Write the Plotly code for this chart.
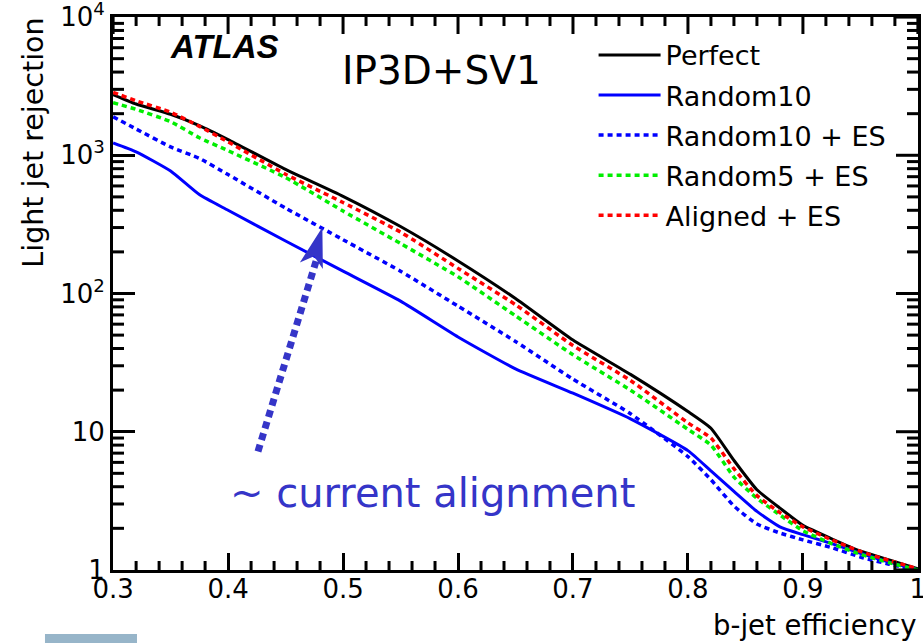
import plotly.graph_objects as go

# b-jet efficiency sampling points shared by all curves
efficiency = [0.30, 0.32, 0.35, 0.375, 0.40, 0.45, 0.50, 0.55, 0.60, 0.65, 0.70,
              0.75, 0.80, 0.82, 0.84, 0.86, 0.88, 0.90, 0.925, 0.95, 0.975, 1.0]

# light-jet rejection for each alignment scenario
perfect = [2750, 2350, 1980, 1640, 1300, 790, 505, 305, 172, 92, 46,
           26, 14, 10.6, 6.2, 3.8, 2.8, 2.1, 1.68, 1.37, 1.18, 1.02]
random10 = [1230, 1060, 770, 520, 400, 240, 145, 88, 48.5, 28.5, 19,
            12.4, 7.3, 5.2, 3.7, 2.65, 2.05, 1.8, 1.55, 1.32, 1.14, 1.0]
random10_es = [1900, 1550, 1150, 950, 725, 415, 245, 145, 81, 45, 24,
               13.5, 6.6, 4.5, 2.9, 2.15, 1.85, 1.65, 1.45, 1.24, 1.1, 1.0]
random5_es = [2400, 2150, 1750, 1340, 1080, 690, 395, 230, 132, 69, 36,
              20, 10.4, 8.0, 4.7, 3.3, 2.5, 1.92, 1.55, 1.3, 1.13, 1.0]
aligned_es = [2850, 2480, 2050, 1620, 1250, 730, 455, 278, 152, 83, 42,
              23.5, 11.6, 9.0, 5.4, 3.45, 2.6, 2.05, 1.65, 1.36, 1.17, 1.02]

series_names = ["Perfect", "Random10", "Random10 + ES", "Random5 + ES", "Aligned + ES"]

x_tick_vals = [0.3, 0.4, 0.5, 0.6, 0.7, 0.8, 0.9, 1.0]
x_tick_text = ["0.3", "0.4", "0.5", "0.6", "0.7", "0.8", "0.9", "1"]
y_tick_vals = [1, 10, 100, 1000, 10000]
y_tick_text = ["1", "10", "10<sup>2</sup>", "10<sup>3</sup>", "10<sup>4</sup>"]

# minor tick positions: five divisions per 0.1 in x, 2..9 in every decade in y
x_minor_vals = [round(0.3 + 0.02 * i, 2) for i in range(36) if i % 5]
y_minor_vals = [m * 10 ** k for k in range(4) for m in range(2, 10)]

X_RANGE = [0.2999, 1.0001]
Y_RANGE = [-0.0005, 4.0005]          # log10 units

W, H = 923, 643
MARGIN = dict(l=113, r=5, t=17, b=73)
PLOT_W = W - MARGIN["l"] - MARGIN["r"]
PLOT_H = H - MARGIN["t"] - MARGIN["b"]
PX_X = (X_RANGE[1] - X_RANGE[0]) / PLOT_W   # x units per pixel
PX_Y = (Y_RANGE[1] - Y_RANGE[0]) / PLOT_H   # decades per pixel

FONT = "DejaVu Sans"
NOTE_BLUE = "#3535c8"
DOTTED = "5px,4px"

X_MAJOR_LEN, X_MINOR_LEN = 17, 9
Y_MAJOR_LEN, Y_MINOR_LEN = 22, 11
TICK_W = 3

styles = [
    dict(color="#000000", width=3, dash="solid"),
    dict(color="#0000ff", width=3, dash="solid"),
    dict(color="#0000ff", width=3.5, dash=DOTTED),
    dict(color="#00ee00", width=3.5, dash=DOTTED),
    dict(color="#ff0000", width=3.5, dash=DOTTED),
]

fig = go.Figure()
for name, values, style in zip(series_names,
                               [perfect, random10, random10_es, random5_es, aligned_es],
                               styles):
    fig.add_trace(go.Scatter(
        x=efficiency, y=values, mode="lines", name=name, legendgroup=name,
        line=dict(shape="spline", smoothing=0.5, **style),
    ))


# frame ticks: minor ticks on all four sides, mirrored major ticks on top / right
def x_ticks(values, length, top):
    xs, ys = [], []
    edge = Y_RANGE[1] if top else Y_RANGE[0]
    end = edge - length * PX_Y if top else edge + length * PX_Y
    for v in values:
        xs += [v, v, None]
        ys += [10 ** edge, 10 ** end, None]
    return xs, ys


def y_ticks(values, length, right):
    xs, ys = [], []
    edge = X_RANGE[1] if right else X_RANGE[0]
    end = edge - length * PX_X if right else edge + length * PX_X
    for v in values:
        xs += [edge, end, None]
        ys += [v, v, None]
    return xs, ys


tick_sets = [
    x_ticks(x_minor_vals, X_MINOR_LEN, top=False),
    x_ticks(x_minor_vals, X_MINOR_LEN, top=True),
    x_ticks(x_tick_vals, X_MAJOR_LEN, top=True),
    y_ticks(y_minor_vals, Y_MINOR_LEN, right=False),
    y_ticks(y_minor_vals, Y_MINOR_LEN, right=True),
    y_ticks(y_tick_vals, Y_MAJOR_LEN, right=True),
]
for xs, ys in tick_sets:
    fig.add_trace(go.Scatter(x=xs, y=ys, mode="lines", showlegend=False,
                             hoverinfo="skip", line=dict(color="black", width=TICK_W)))

# arrow pointing at the Random10 + ES curve
tip_x, tip_y = 0.482, 301
tail_x, tail_y = 0.426, 7.2
shaft_end_x, shaft_end_y = 0.4765, 171

fig.add_shape(type="line", xref="x", yref="y",
              x0=tail_x, y0=tail_y, x1=shaft_end_x, y1=shaft_end_y,
              line=dict(color=NOTE_BLUE, width=7, dash="7px,5px"))
fig.add_shape(type="path", xref="x", yref="y",
              xsizemode="pixel", ysizemode="pixel",
              xanchor=tip_x, yanchor=tip_y,
              path="M 0,0 L -22.5,-35.1 L -8.3,-28.8 L 0.5,-41.7 Z",
              fillcolor=NOTE_BLUE, line=dict(width=0))

# small tinted block under the frame
fig.add_shape(type="rect", xref="paper", yref="paper",
              x0=-0.0845, x1=0.0298, y0=-0.1157, y1=-0.14,
              fillcolor="#97b5c9", line=dict(width=0), layer="above")

axis_common = dict(
    showline=True, linewidth=3, linecolor="black", mirror=True,
    ticks="inside", tickcolor="black", tickwidth=TICK_W, automargin=False,
    showgrid=False, zeroline=False, ticklabeloverflow="allow",
    tickfont=dict(family=FONT, size=26, color="black"),
)

fig.update_layout(
    width=W, height=H,
    margin=MARGIN,
    paper_bgcolor="white", plot_bgcolor="white",
    showlegend=True,
    legend=dict(x=0.597, y=0.975, xanchor="left", yanchor="top",
                font=dict(family=FONT, size=27, color="black"),
                bgcolor="rgba(0,0,0,0)", itemwidth=62,
                tracegroupgap=2, traceorder="grouped"),
    xaxis=dict(range=X_RANGE, tickmode="array",
               tickvals=x_tick_vals, ticktext=x_tick_text, ticklen=X_MAJOR_LEN,
               ticklabelstandoff=-6, **axis_common),
    yaxis=dict(type="log", range=Y_RANGE, tickmode="array",
               tickvals=y_tick_vals, ticktext=y_tick_text, ticklen=Y_MAJOR_LEN,
               **axis_common),
    annotations=[
        dict(text="Light jet rejection", textangle=-90, xref="paper", yref="paper",
             x=-0.099, y=1.003, xanchor="center", yanchor="top", showarrow=False,
             font=dict(family=FONT, size=28.5, color="black")),
        dict(text="b-jet efficiency", xref="paper", yref="paper",
             x=1.0, y=-0.0995, xanchor="right", yanchor="middle", showarrow=False,
             font=dict(family=FONT, size=27.5, color="black")),
        dict(text="<b><i>ATLAS</i></b>", xref="paper", yref="paper",
             x=0.139, y=0.946, xanchor="center", yanchor="middle", showarrow=False,
             font=dict(family="Liberation Sans", size=33, color="black")),
        dict(text="IP3D+SV1", xref="paper", yref="paper",
             x=0.408, y=0.904, xanchor="center", yanchor="middle", showarrow=False,
             font=dict(family=FONT, size=39, color="black")),
        dict(text="~ current alignment", xref="paper", yref="paper",
             x=0.3975, y=0.139, xanchor="center", yanchor="middle", showarrow=False,
             font=dict(family=FONT, size=40, color=NOTE_BLUE)),
    ],
)

fig.write_html("out.html")
